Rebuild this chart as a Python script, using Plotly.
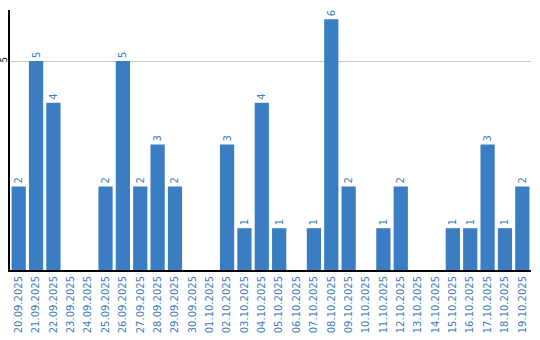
import plotly.graph_objects as go

dates = ["20.09.2025","21.09.2025","22.09.2025","23.09.2025","24.09.2025","25.09.2025",
         "26.09.2025","27.09.2025","28.09.2025","29.09.2025","30.09.2025","01.10.2025",
         "02.10.2025","03.10.2025","04.10.2025","05.10.2025","06.10.2025","07.10.2025",
         "08.10.2025","09.10.2025","10.10.2025","11.10.2025","12.10.2025","13.10.2025",
         "14.10.2025","15.10.2025","16.10.2025","17.10.2025","18.10.2025","19.10.2025"]
counts = [2,5,4,0,0,2,5,2,3,2,0,0,3,1,4,1,0,1,6,2,0,1,2,0,0,1,1,3,1,2]

blue = "#3b7dc2"
labels = [str(v) if v > 0 else "" for v in counts]

fig = go.Figure(go.Bar(
    x=dates, y=counts, marker_color=blue, marker_line_width=0,
    text=labels, textposition="outside", textangle=-90,
    textfont=dict(color=blue, size=10, family="DejaVu Sans"),
    cliponaxis=False,
))
fig.update_layout(
    width=540, height=340,
    margin=dict(l=10, r=9, t=10, b=70),
    paper_bgcolor="white", plot_bgcolor="white",
    bargap=0.18, showlegend=False,
    font=dict(family="DejaVu Sans"),
)
fig.update_xaxes(
    type="category", tickangle=-90, showgrid=False, automargin=False,
    showline=True, linecolor="black", linewidth=2,
    tickfont=dict(color=blue, size=10), ticks="",
)
fig.update_yaxes(
    range=[0, 6.22], tickvals=[5], ticktext=["5"], tickangle=-90, automargin=False,
    ticklabelstandoff=-2,
    showgrid=True, gridcolor="#c8c8c8", gridwidth=1,
    showline=True, linecolor="black", linewidth=2,
    tickfont=dict(color="black", size=8), ticks="", zeroline=False,
)
fig.write_html("out.html")
